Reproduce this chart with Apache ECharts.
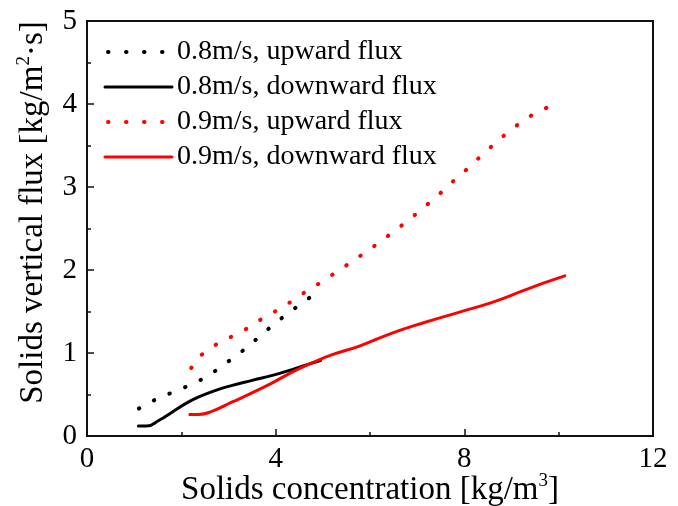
<!DOCTYPE html>
<html>
<head>
<meta charset="utf-8">
<script src="https://cdn.jsdelivr.net/npm/echarts@6/dist/echarts.min.js"></script>
<style>
  html, body { margin: 0; padding: 0; background: #fff; }
  #chart { width: 678px; height: 506px; }
</style>
</head>
<body>
<div id="chart"></div>
<script>
// Solids concentration [kg/m3] and vertical flux [kg/(m2 s)] for each case
const up08Conc = [1.10, 1.45, 1.79, 2.13, 2.46, 2.79, 3.07, 3.38, 3.66, 3.95, 4.26, 4.56, 4.92];
const up08Flux = [0.33, 0.44, 0.52, 0.60, 0.69, 0.81, 0.93, 1.06, 1.20, 1.34, 1.48, 1.60, 1.75];

const down08Conc = [1.09, 1.26, 1.53, 1.81, 2.09, 2.37, 2.73, 3.08, 3.50, 3.93, 4.35, 4.67, 4.95];
const down08Flux = [0.12, 0.12, 0.19, 0.29, 0.39, 0.47, 0.55, 0.61, 0.67, 0.73, 0.80, 0.86, 0.91];

const up09Conc = [2.21, 2.43, 2.73, 3.07, 3.41, 3.73, 4.05, 4.39, 4.69, 5.02, 5.32, 5.62, 5.92,
                  6.24, 6.54, 6.84, 7.13, 7.41, 7.68, 7.97, 8.25, 8.54, 8.82, 9.13, 9.44, 9.80];
const up09Flux = [0.82, 0.98, 1.10, 1.20, 1.30, 1.42, 1.52, 1.64, 1.76, 1.87, 1.99, 2.10, 2.22,
                  2.35, 2.48, 2.61, 2.75, 2.88, 3.03, 3.17, 3.32, 3.47, 3.61, 3.75, 3.87, 3.97];

const down09Conc = [2.18, 2.37, 2.66, 3.08, 3.50, 3.93, 4.35, 4.77, 5.20, 5.76, 6.47, 7.17, 7.88, 8.59, 9.29, 9.72, 10.13];
const down09Flux = [0.26, 0.26, 0.30, 0.41, 0.52, 0.64, 0.77, 0.88, 0.98, 1.08, 1.24, 1.37, 1.49, 1.61, 1.76, 1.85, 1.93];

const seriesNames = ['0.8m/s, upward flux', '0.8m/s, downward flux', '0.9m/s, upward flux', '0.9m/s, downward flux'];
const xTicks = [0, 4, 8, 12];
const yTicks = [0, 1, 2, 3, 4, 5];

const pairs = (xs, ys) => xs.map((x, i) => [x, ys[i]]);

const FONT = '"Liberation Serif", "DejaVu Serif", serif';
const dotted = color => ({ color: color, width: 4, type: [0.5, 16.5], cap: 'round' });
const solid = color => ({ color: color, width: 3, type: 'solid', cap: 'round' });

function lineSeries(name, xs, ys, style, smooth) {
  return {
    name: name,
    type: 'line',
    data: pairs(xs, ys),
    showSymbol: false,
    symbol: 'none',
    smooth: smooth,
    lineStyle: style,
    itemStyle: { color: style.color },
    emphasis: { disabled: true },
    animation: false
  };
}

// legend swatches: dotted entries get round dots, solid entries a plain 3px line
const legendDotted = { width: 4, type: [0.5, 17.5], dashOffset: 15, cap: 'round' };
const legendSolid = { width: 3, type: 'solid' };

const axisCommon = {
  axisLine: { show: true, lineStyle: { color: '#111', width: 2 } },
  axisTick: { show: true, inside: true, length: 7, lineStyle: { color: '#111', width: 1.5 } },
  minorTick: { show: true, splitNumber: 2, length: 4, lineStyle: { color: '#111', width: 1.5 } },
  splitLine: { show: false },
  axisLabel: { color: '#000', fontFamily: FONT, fontSize: 29 },
  nameLocation: 'middle',
  nameMoveOverlap: false
};

const nameRich = {
  t: { fontFamily: FONT, fontSize: 33, color: '#000' },
  s: { fontFamily: FONT, fontSize: 19, color: '#000', padding: [0, 0, 17, 0] }
};

const chart = echarts.init(document.getElementById('chart'), null, { renderer: 'canvas' });
chart.setOption({
  backgroundColor: '#fff',
  animation: false,
  grid: {
    left: 87, right: 25, top: 21, bottom: 70,
    outerBoundsMode: 'none',
    containLabel: false,
    show: true, borderColor: '#111', borderWidth: 2, backgroundColor: 'transparent'
  },
  legend: {
    orient: 'vertical',
    left: 103,
    top: 37,
    padding: 0,
    itemWidth: 67,
    itemHeight: 14,
    itemGap: 5,
    data: [
      { name: seriesNames[0], lineStyle: legendDotted },
      { name: seriesNames[1], lineStyle: legendSolid },
      { name: seriesNames[2], lineStyle: legendDotted },
      { name: seriesNames[3], lineStyle: legendSolid }
    ],
    itemStyle: { opacity: 0 },
    textStyle: { fontFamily: FONT, fontSize: 28, color: '#000', lineHeight: 30 }
  },
  xAxis: Object.assign({}, axisCommon, {
    type: 'value',
    min: xTicks[0],
    max: xTicks[xTicks.length - 1],
    interval: 4,
    axisLabel: Object.assign({}, axisCommon.axisLabel, { margin: 9 }),
    name: '{t|Solids concentration [kg/m}{s|3}{t|]}',
    nameGap: 36,
    nameTextStyle: { rich: nameRich, padding: [0, 0, 10, 0] }
  }),
  yAxis: Object.assign({}, axisCommon, {
    type: 'value',
    min: yTicks[0],
    max: yTicks[yTicks.length - 1],
    interval: 1,
    axisLabel: Object.assign({}, axisCommon.axisLabel, { margin: 10 }),
    name: '{t|Solids vertical flux [kg/m}{s|2}{t|·s]}',
    nameGap: 36,
    nameRotate: 90,
    nameTextStyle: { rich: nameRich, padding: [0, 0, 0, 32] }
  }),
  series: [
    lineSeries(seriesNames[0], up08Conc, up08Flux, dotted('#000000'), false),
    lineSeries(seriesNames[1], down08Conc, down08Flux, solid('#000000'), true),
    lineSeries(seriesNames[2], up09Conc, up09Flux, dotted('#ff0000'), false),
    lineSeries(seriesNames[3], down09Conc, down09Flux, solid('#ff0000'), true)
  ]
});
</script>
</body>
</html>
